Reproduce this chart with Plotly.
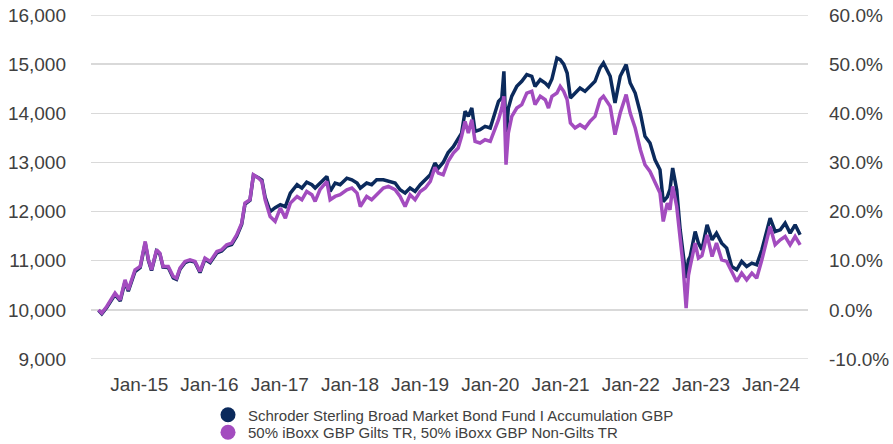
import plotly.graph_objects as go

dates = [
    "2014-06-03", "2014-06-20", "2014-07-16", "2014-08-28", "2014-09-24", "2014-10-19", "2014-11-05", "2014-12-10",
    "2015-01-06", "2015-02-01", "2015-02-18", "2015-03-06", "2015-04-01", "2015-04-18", "2015-05-05", "2015-06-01",
    "2015-06-27", "2015-07-14", "2015-08-01", "2015-08-27", "2015-09-22", "2015-10-18", "2015-11-13", "2015-12-09",
    "2016-01-05", "2016-02-09", "2016-03-05", "2016-03-31", "2016-04-26", "2016-05-22", "2016-06-17", "2016-07-04",
    "2016-07-30", "2016-08-17", "2016-09-12", "2016-09-30", "2016-10-17", "2016-11-12", "2016-12-08",
    "2017-01-04", "2017-01-30", "2017-02-25", "2017-04-01", "2017-04-26", "2017-05-21", "2017-06-17", "2017-07-04",
    "2017-07-29", "2017-09-03", "2017-09-20", "2017-10-16", "2017-11-11", "2017-12-16",
    "2018-01-11", "2018-02-07", "2018-02-24", "2018-03-29", "2018-04-24", "2018-05-20", "2018-06-24", "2018-07-20",
    "2018-08-24", "2018-09-19", "2018-10-15", "2018-11-10", "2018-12-06",
    "2019-01-02", "2019-01-28", "2019-02-23", "2019-03-19", "2019-04-06", "2019-05-01", "2019-05-27", "2019-06-23",
    "2019-07-18", "2019-08-05", "2019-08-23", "2019-09-09", "2019-09-27", "2019-10-14", "2019-11-09", "2019-12-05",
    "2020-01-01", "2020-01-18", "2020-02-13", "2020-03-01", "2020-03-12", "2020-03-23", "2020-04-04", "2020-04-22",
    "2020-05-18", "2020-06-13", "2020-07-09", "2020-08-04", "2020-08-21", "2020-09-17", "2020-10-13", "2020-10-30",
    "2020-11-17", "2020-12-13", "2020-12-30",
    "2021-01-17", "2021-02-04", "2021-02-21", "2021-03-17", "2021-04-12", "2021-05-08", "2021-06-03", "2021-06-29",
    "2021-07-25", "2021-08-12", "2021-09-16", "2021-10-11", "2021-11-07", "2021-12-08", "2021-12-29",
    "2022-01-24", "2022-02-20", "2022-03-16", "2022-04-11", "2022-05-07", "2022-06-02", "2022-06-19", "2022-07-10",
    "2022-07-24", "2022-08-07", "2022-08-28", "2022-09-15", "2022-09-29", "2022-10-16", "2022-10-28", "2022-11-06",
    "2022-12-02", "2022-12-19",
    "2023-01-06", "2023-02-02", "2023-02-28", "2023-03-23", "2023-04-19", "2023-05-15", "2023-06-10", "2023-07-06",
    "2023-08-01", "2023-08-27", "2023-09-23", "2023-10-18", "2023-11-14", "2023-12-10", "2023-12-27",
    "2024-01-22", "2024-02-18", "2024-03-14", "2024-04-09", "2024-05-05", "2024-05-31",
]

fund = [
    9990, 9920, 10050, 10310, 10180, 10570, 10380, 10780,
    10860, 11360, 11000, 10800, 11200, 11140, 10870, 10860,
    10650, 10620, 10830, 10960, 11000, 10970, 10760, 11030,
    10960, 11160, 11200, 11300, 11330, 11500, 11740, 12150,
    12230, 12740, 12690, 12640, 12290, 12000, 12080,
    12140, 12100, 12376, 12546, 12478, 12600, 12546, 12478,
    12580, 12715, 12410, 12580, 12546, 12680,
    12647, 12580, 12478, 12580, 12546, 12647, 12647, 12613,
    12580, 12444, 12376, 12478, 12410,
    12546, 12647, 12749, 12987, 12885, 13000, 13200, 13320,
    13497, 13598, 14040, 13937, 14107, 13632, 13666, 13734,
    13700, 13937, 14243, 14311, 14854, 13500, 14100, 14350,
    14548, 14650, 14786, 14752, 14548, 14684, 14616, 14548,
    14700, 15125, 15091,
    15000, 14820, 14311, 14412, 14514, 14446, 14548, 14650,
    14922, 15024, 14752, 14209, 14752, 14990, 14616,
    14412, 14005, 13530, 13395, 13055, 12851, 12200, 12300,
    12450, 12885, 12444, 11629, 11222, 10650, 11018, 11086,
    11595, 11358,
    11222, 11731, 11425, 11561, 11358, 11256, 10883, 10815,
    10985, 10883, 10951, 10917, 11222, 11629, 11867,
    11595, 11629, 11765, 11561, 11731, 11527,
]

benchmark = [
    10000, 9933, 10068, 10340, 10204, 10611, 10407, 10815,
    10883, 11392, 11018, 10815, 11222, 11154, 10883, 10883,
    10679, 10645, 10849, 10985, 11018, 10985, 10781, 11052,
    10985, 11188, 11222, 11324, 11358, 11527, 11765, 12172,
    12240, 12749, 12681, 12613, 12240, 11900, 11799,
    12071, 11867, 12172, 12308, 12240, 12410, 12342, 12206,
    12444, 12613, 12240, 12308, 12342, 12444,
    12478, 12376, 12104, 12308, 12240, 12342, 12478, 12511,
    12444, 12308, 12104, 12342, 12240,
    12410, 12478, 12613, 12900, 12783, 12749, 13021, 13191,
    13293, 13530, 13835, 13598, 13870, 13429, 13395, 13462,
    13429, 13598, 13870, 14107, 14345, 12953, 13598, 13937,
    14107, 14175, 14412, 14446, 14175, 14345, 14277, 14107,
    14345, 14412, 14548,
    14446, 14277, 13802, 13700, 13768, 13700, 13835, 13937,
    14277, 14345, 14141, 13564, 14005, 14379, 14005,
    13700, 13259, 12953, 12817, 12580, 12376, 11799, 12172,
    12037, 12511, 12104, 11358, 10951, 10034, 10700, 10883,
    11358, 11052,
    11100, 11527, 11086, 11358, 11018, 10985, 10781, 10577,
    10747, 10611, 10747, 10645, 11018, 11460, 11697,
    11324, 11425, 11493, 11324, 11493, 11324,
]

x_tick_vals = ["2015-01-01", "2016-01-01", "2017-01-01", "2018-01-01", "2019-01-01",
               "2020-01-01", "2021-01-01", "2022-01-01", "2023-01-01", "2024-01-01"]
x_tick_text = ["Jan-15", "Jan-16", "Jan-17", "Jan-18", "Jan-19",
               "Jan-20", "Jan-21", "Jan-22", "Jan-23", "Jan-24"]
y_tick_vals = [9000, 10000, 11000, 12000, 13000, 14000, 15000, 16000]
pct_tick_vals = [-0.1, 0.0, 0.1, 0.2, 0.3, 0.4, 0.5, 0.6]
pct_tick_text = ["-10.0%", "0.0%", "10.0%", "20.0%", "30.0%", "40.0%", "50.0%", "60.0%"]

base_value = 10000
y_min, y_max = 9000, 16000
fund_name = "Schroder Sterling Broad Market Bond Fund I Accumulation GBP"
bench_name = "50% iBoxx GBP Gilts TR, 50% iBoxx GBP Non-Gilts TR"
navy = "#0b2a5c"
purple = "#a34cbf"
grey_text = "#404040"
grid = "#d9d9d9"

W, H = 893, 444

fig = go.Figure()
fig.add_trace(go.Scatter(x=dates, y=fund, mode="lines", line=dict(color=navy, width=3.5),
                         showlegend=False, name=fund_name, hoverinfo="skip"))
fig.add_trace(go.Scatter(x=dates, y=benchmark, mode="lines", line=dict(color=purple, width=3.5),
                         showlegend=False, name=bench_name))
# percentage view on the right axis (same data, invisible, just to activate the axis)
fig.add_trace(go.Scatter(x=dates, y=[v / base_value - 1 for v in fund], yaxis="y2", mode="lines",
                         line=dict(color="rgba(0,0,0,0)", width=0), showlegend=False, hoverinfo="skip"))
# legend entries (circle markers)
fig.add_trace(go.Scatter(x=[None], y=[None], mode="markers", name=fund_name, legend="legend",
                         marker=dict(color=navy, size=15, symbol="circle")))
fig.add_trace(go.Scatter(x=[None], y=[None], mode="markers", name=bench_name, legend="legend2",
                         marker=dict(color=purple, size=15, symbol="circle")))

# gridlines at the top and bottom edges of the plot area
for yv in (y_min, y_max):
    fig.add_shape(type="line", xref="paper", yref="y", x0=0, x1=1, y0=yv, y1=yv,
                  line=dict(color=grid, width=1.5), layer="below")

leg_common = dict(xref="container", yref="container", xanchor="left", yanchor="middle",
                  font=dict(size=15, color=grey_text), itemsizing="trace",
                  bgcolor="rgba(0,0,0,0)", borderwidth=0)

fig.update_layout(
    width=W, height=H,
    margin=dict(l=91, r=85, t=15, b=85, autoexpand=False),
    paper_bgcolor="white", plot_bgcolor="white",
    font=dict(family="Liberation Sans, Arial, sans-serif", color=grey_text, size=19),
    showlegend=True,
    legend=dict(x=208 / W, y=1 - 415 / H, **leg_common),
    legend2=dict(x=208 / W, y=1 - 432.5 / H, **leg_common),
    xaxis=dict(type="date", range=["2014-04-25", "2024-07-11"], automargin=False,
               tickvals=x_tick_vals, ticktext=x_tick_text,
               showgrid=False, zeroline=False, showline=False, ticks="",
               ticklabelstandoff=12, tickfont=dict(size=19, color=grey_text)),
    yaxis=dict(range=[y_min, y_max], tickvals=y_tick_vals, tickformat=",d",
               showgrid=True, gridcolor=grid,
               gridwidth=1.5, zeroline=False, showline=False, ticks="", automargin=False,
               ticklabelstandoff=24, tickfont=dict(size=19, color=grey_text)),
    yaxis2=dict(range=[y_min / base_value - 1, y_max / base_value - 1],
                tickvals=pct_tick_vals, ticktext=pct_tick_text,
                overlaying="y", side="right",
                showgrid=False, zeroline=False, showline=False, ticks="", automargin=False,
                ticklabelstandoff=20, tickfont=dict(size=19, color=grey_text)),
)

fig.write_html("out.html", config={"displayModeBar": False, "staticPlot": True},
               post_script="document.body.style.margin='0px';document.body.style.overflow='hidden';")
